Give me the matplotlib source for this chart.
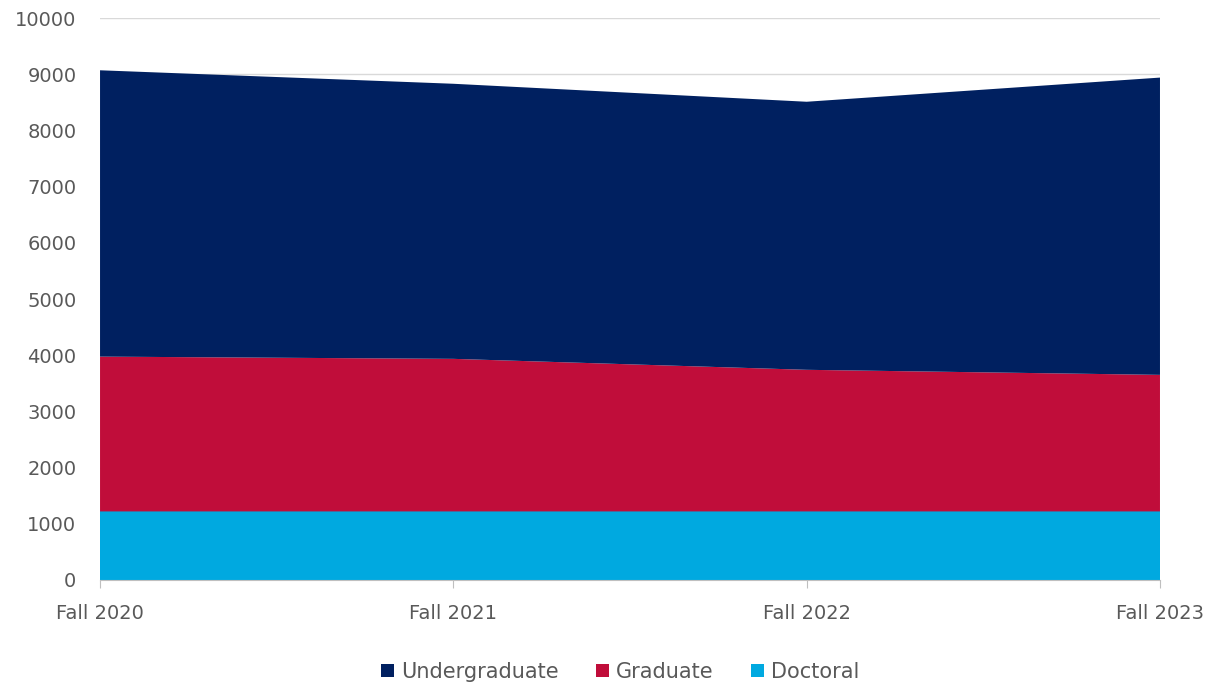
import matplotlib.pyplot as plt

# enrollment by level, fall terms
terms = ['Fall 2020', 'Fall 2021', 'Fall 2022', 'Fall 2023']
doctoral = [1220, 1220, 1220, 1220]
graduate = [2755, 2715, 2520, 2430]
undergraduate = [5095, 4895, 4770, 5290]

c_ug = '#002060'
c_gr = '#C00D3A'
c_doc = '#00A9E0'

plt.rcParams['font.family'] = ['DejaVu Sans']

fig = plt.figure(figsize=(12.14, 6.85), dpi=100)
ax = fig.add_axes([0.0824, 0.1533, 0.8731, 0.8204])

x = list(range(len(terms)))
ax.stackplot(x, doctoral, graduate, undergraduate,
             colors=[c_doc, c_gr, c_ug],
             labels=['Doctoral', 'Graduate', 'Undergraduate'],
             linewidth=0, zorder=2)

ax.set_xlim(0, len(terms) - 1)
ax.set_ylim(0, 10000)
ax.set_yticks(range(0, 10001, 1000))
ax.set_xticks(x)
ax.set_xticklabels(terms)

ax.grid(axis='y', color='#D9D9D9', linewidth=1, zorder=0)
ax.set_axisbelow(True)
for s in ['top', 'right', 'left']:
    ax.spines[s].set_visible(False)
ax.spines['bottom'].set_color('#BFBFBF')
ax.spines['bottom'].set_zorder(3)

ax.tick_params(axis='y', length=0, pad=17, labelsize=14, labelcolor='#595959')
ax.tick_params(axis='x', length=6, color='#BFBFBF', pad=11,
               labelsize=14, labelcolor='#595959')

handles, labels = ax.get_legend_handles_labels()
fig.legend(handles[::-1], labels[::-1], loc='center', bbox_to_anchor=(0.511, 0.019),
           ncol=3, frameon=False, fontsize=15, labelcolor='#595959',
           handlelength=0.6, handleheight=0.6, handletextpad=0.35, columnspacing=1.8)

fig.savefig('out.png', dpi=100)
